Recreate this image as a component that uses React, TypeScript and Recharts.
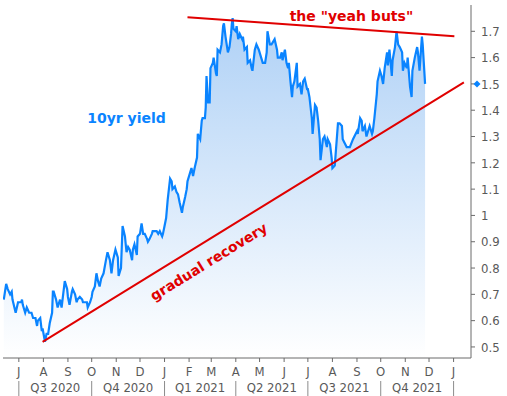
import React from "react";
import { AreaChart, Area, XAxis, YAxis, ReferenceLine, ReferenceDot } from "recharts";

// day offsets from 1 Jul 2020 and the 10yr yield
const dayOffsets = [
  -19, -16, -14, -11, -9, -8, -4, -1, 3, 4, 5, 8, 10, 13, 16, 18, 21, 23, 24, 27, 29, 30, 33, 35, 37, 39, 42, 43, 44, 47,
  49, 52, 54, 58, 61, 62, 64, 67, 68, 71, 73, 74, 77, 80, 81, 86, 87, 90, 92, 93, 96, 98, 100, 102, 104, 107, 110, 112,
  115, 117, 119, 122, 125, 126, 129, 130, 131, 134, 136, 138, 140, 143, 144, 146, 149, 150, 153, 155, 157, 159, 162,
  163, 165, 168, 169, 172, 174, 176, 178, 181, 182, 184, 186, 188, 191, 193, 194, 197, 199, 201, 203, 206, 207, 210,
  212, 213, 216, 218, 220, 222, 225, 226, 229, 231, 232, 235, 236, 237, 239, 241, 242, 245, 246, 249, 250, 251, 254,
  256, 258, 259, 261, 263, 264, 266, 268, 269, 270, 271, 274, 275, 277, 279, 282, 283, 285, 288, 289, 292, 294, 295,
  298, 300, 303, 306, 308, 311, 313, 314, 317, 319, 321, 323, 326, 327, 330, 332, 333, 336, 338, 340, 341, 343, 345,
  346, 348, 351, 352, 355, 357, 359, 361, 364, 365, 367, 370, 371, 374, 376, 378, 380, 381, 384, 386, 389, 390, 393,
  395, 396, 399, 400, 402, 403, 405, 408, 409, 414, 418, 422, 427, 428, 431, 433, 434, 437, 439, 441, 443, 446, 447,
  449, 452, 453, 456, 458, 460, 462, 465, 466, 468, 471, 472, 475, 477, 479, 481, 484, 485, 487, 490, 491, 494, 496,
  497, 500, 503, 504, 506, 509, 510, 513,
];
const yields = [
  0.68, 0.74, 0.72, 0.7, 0.71, 0.68, 0.63, 0.67, 0.67, 0.68, 0.66, 0.63, 0.65, 0.63, 0.63, 0.61, 0.61, 0.58, 0.6, 0.61,
  0.56, 0.57, 0.52, 0.55, 0.55, 0.59, 0.63, 0.71, 0.71, 0.68, 0.65, 0.68, 0.65, 0.75, 0.72, 0.69, 0.66, 0.71, 0.72, 0.7,
  0.67, 0.68, 0.69, 0.68, 0.67, 0.67, 0.65, 0.67, 0.69, 0.71, 0.73, 0.78, 0.75, 0.73, 0.76, 0.78, 0.83, 0.86, 0.83, 0.78,
  0.83, 0.87, 0.84, 0.77, 0.8, 0.88, 0.96, 0.92, 0.86, 0.88, 0.87, 0.83, 0.87, 0.89, 0.85, 0.92, 0.93, 0.97, 0.93, 0.93,
  0.91, 0.9, 0.91, 0.93, 0.94, 0.94, 0.94, 0.93, 0.94, 0.92, 0.93, 0.96, 0.99, 1.06, 1.14, 1.13, 1.1, 1.11, 1.09, 1.08,
  1.05, 1.01, 1.03, 1.07, 1.1, 1.13, 1.16, 1.18, 1.15, 1.18, 1.22, 1.31, 1.29, 1.36, 1.37, 1.37, 1.41, 1.53, 1.43, 1.43,
  1.56, 1.58, 1.6, 1.54, 1.53, 1.63, 1.62, 1.65, 1.72, 1.73, 1.68, 1.64, 1.62, 1.64, 1.69, 1.73, 1.75, 1.71, 1.7, 1.72,
  1.67, 1.69, 1.67, 1.68, 1.63, 1.64, 1.58, 1.59, 1.56, 1.55, 1.63, 1.65, 1.63, 1.6, 1.58, 1.58, 1.62, 1.7, 1.65, 1.65,
  1.66, 1.67, 1.63, 1.6, 1.6, 1.62, 1.59, 1.63, 1.58, 1.56, 1.58, 1.51, 1.45, 1.49, 1.51, 1.58, 1.49, 1.5, 1.46, 1.51,
  1.52, 1.48, 1.48, 1.45, 1.37, 1.31, 1.42, 1.41, 1.36, 1.29, 1.21, 1.29, 1.3, 1.26, 1.29, 1.27, 1.22, 1.18, 1.19, 1.23,
  1.31, 1.35, 1.35, 1.34, 1.29, 1.26, 1.26, 1.29, 1.32, 1.31, 1.37, 1.36, 1.32, 1.34, 1.3, 1.32, 1.34, 1.31, 1.32, 1.37,
  1.46, 1.51, 1.55, 1.53, 1.5, 1.56, 1.62, 1.57, 1.63, 1.53, 1.59, 1.64, 1.7, 1.65, 1.64, 1.62, 1.55, 1.58, 1.56, 1.6,
  1.49, 1.45, 1.55, 1.6, 1.64, 1.62, 1.55, 1.68, 1.65, 1.5,
];

const monthLetters = ["J", "A", "S", "O", "N", "D", "J", "F", "M", "A", "M", "J", "J", "A", "S", "O", "N", "D", "J"];
const quarterLabels = ["Q3 2020", "Q4 2020", "Q1 2021", "Q2 2021", "Q3 2021", "Q4 2021"];
const yTicks = [0.5, 0.6, 0.7, 0.8, 0.9, 1, 1.1, 1.2, 1.3, 1.4, 1.5, 1.6, 1.7];

// hand drawn annotation lines (day offset, yield)
const ceilingLine = [{ x: 213, y: 1.753 }, { x: 550, y: 1.681 }];
const trendLine = [{ x: 30, y: 0.519 }, { x: 562, y: 1.506 }];

const DAY = 86400000;
const start = Date.UTC(2020, 6, 1);
const monthTicks = monthLetters.map((_, i) => (Date.UTC(2020, 6 + i, 1) - start) / DAY);
const quarterStarts = monthTicks.filter((_, i) => (6 + i) % 3 === 0);
const quarterMids = quarterLabels.map((_, i) => (quarterStarts[i] + quarterStarts[i + 1]) / 2);
const lastYield = yields[yields.length - 1];

const data = dayOffsets.map((d, i) => ({ d, v: yields[i] }));

const X_DOMAIN: [number, number] = [-20, 571];
const Y_DOMAIN: [number, number] = [0.458, 1.8];
const AXIS = "#6b6b6b";
const TEXT = "#595959";
const RED = "#e00000";
const BLUE = "#0a84ff";
const FONT = "'DejaVu Sans Condensed', 'DejaVu Sans', sans-serif";
const BOLD = "'DejaVu Sans', sans-serif";

function MonthTick({ x, y, payload }: any) {
  const i = monthTicks.indexOf(payload.value);
  const qStart = (6 + i) % 3 === 0;
  return (
    <g>
      <text x={x} y={y + 14} textAnchor="middle" fill={TEXT} fontSize={13} fontFamily={FONT}>
        {monthLetters[i]}
      </text>
      {qStart && <line x1={x} x2={x} y1={y + 19} y2={y + 36} stroke="#8c8c8c" />}
    </g>
  );
}

function QuarterTick({ x, y, payload }: any) {
  const i = quarterMids.indexOf(payload.value);
  return (
    <text x={x} y={y + 14} textAnchor="middle" fill={TEXT} fontSize={13} fontFamily={FONT}>
      {quarterLabels[i]}
    </text>
  );
}

function YTick({ x, y, payload }: any) {
  const isLast = Math.abs(payload.value - lastYield) < 0.001;
  return (
    <g>
      {isLast && (
        <polygon points={`${x - 4},${y - 3.5} ${x - 0.5},${y} ${x - 4},${y + 3.5} ${x - 7.5},${y}`} fill={BLUE} />
      )}
      <text x={x} y={y} dy="0.36em" textAnchor="start" fill={TEXT} fontSize={13} fontFamily={FONT}>
        {payload.value}
      </text>
    </g>
  );
}

export default function App() {
  return (
    <div style={{ position: "absolute", left: 0, top: 0, background: "#fff" }}>
      <AreaChart width={507} height={396} data={data} margin={{ top: 5, right: 0, left: 3, bottom: 0 }}>
        <defs>
          <linearGradient id="yieldFill" x1="0" y1="0" x2="0" y2="1">
            <stop offset="0%" stopColor="#afd1f6" />
            <stop offset="100%" stopColor="#ffffff" />
          </linearGradient>
        </defs>
        <XAxis
          xAxisId="m"
          dataKey="d"
          type="number"
          domain={X_DOMAIN}
          allowDataOverflow
          ticks={monthTicks}
          interval={0}
          height={20}
          tickSize={4}
          tickMargin={0}
          axisLine={{ stroke: AXIS }}
          tickLine={{ stroke: AXIS }}
          tick={<MonthTick />}
        />
        <XAxis
          xAxisId="q"
          dataKey="d"
          type="number"
          domain={X_DOMAIN}
          allowDataOverflow
          ticks={quarterMids}
          interval={0}
          height={18}
          tickSize={0}
          tickMargin={0}
          axisLine={false}
          tickLine={false}
          tick={<QuarterTick />}
        />
        <XAxis
          xAxisId="t"
          orientation="top"
          dataKey="d"
          type="number"
          domain={X_DOMAIN}
          allowDataOverflow
          height={0}
          tick={false}
          tickLine={false}
          axisLine={{ stroke: AXIS }}
        />
        <YAxis
          yAxisId="l"
          orientation="left"
          type="number"
          domain={Y_DOMAIN}
          allowDataOverflow
          width={0}
          tick={false}
          tickLine={false}
          axisLine={{ stroke: AXIS }}
        />
        <YAxis
          yAxisId="r"
          orientation="right"
          type="number"
          domain={Y_DOMAIN}
          allowDataOverflow
          ticks={yTicks}
          interval={0}
          width={36}
          tickSize={4}
          tickMargin={6}
          axisLine={{ stroke: AXIS }}
          tickLine={{ stroke: AXIS }}
          tick={<YTick />}
        />
        <Area
          xAxisId="m"
          yAxisId="r"
          type="linear"
          dataKey="v"
          stroke={BLUE}
          strokeWidth={2.2}
          fill="url(#yieldFill)"
          fillOpacity={1}
          dot={false}
          activeDot={false}
          isAnimationActive={false}
        />
        <ReferenceLine xAxisId="m" yAxisId="r" segment={ceilingLine} stroke={RED} strokeWidth={2} ifOverflow="visible" />
        <ReferenceLine xAxisId="m" yAxisId="r" segment={trendLine} stroke={RED} strokeWidth={2} ifOverflow="visible" />
        <ReferenceDot
          xAxisId="m"
          yAxisId="r"
          x={420}
          y={1.738}
          r={0}
          ifOverflow="visible"
          shape={(p: any) => (
            <text x={p.cx} y={p.cy} textAnchor="middle" fill={RED} fontSize={14} fontWeight="bold" fontFamily={BOLD}>
              the "yeah buts"
            </text>
          )}
        />
        <ReferenceDot
          xAxisId="m"
          yAxisId="r"
          x={136}
          y={1.351}
          r={0}
          ifOverflow="visible"
          shape={(p: any) => (
            <text x={p.cx} y={p.cy} textAnchor="middle" fill={BLUE} fontSize={14} fontWeight="bold" fontFamily={BOLD}>
              10yr yield
            </text>
          )}
        />
        <ReferenceDot
          xAxisId="m"
          yAxisId="r"
          x={243}
          y={0.808}
          r={0}
          ifOverflow="visible"
          shape={(p: any) => (
            <text
              x={p.cx}
              y={p.cy}
              textAnchor="middle"
              fill={RED}
              fontSize={14}
              fontWeight="bold"
              fontFamily={BOLD}
              transform={`rotate(-31.7 ${p.cx} ${p.cy})`}
            >
              gradual recovery
            </text>
          )}
        />
      </AreaChart>
    </div>
  );
}
